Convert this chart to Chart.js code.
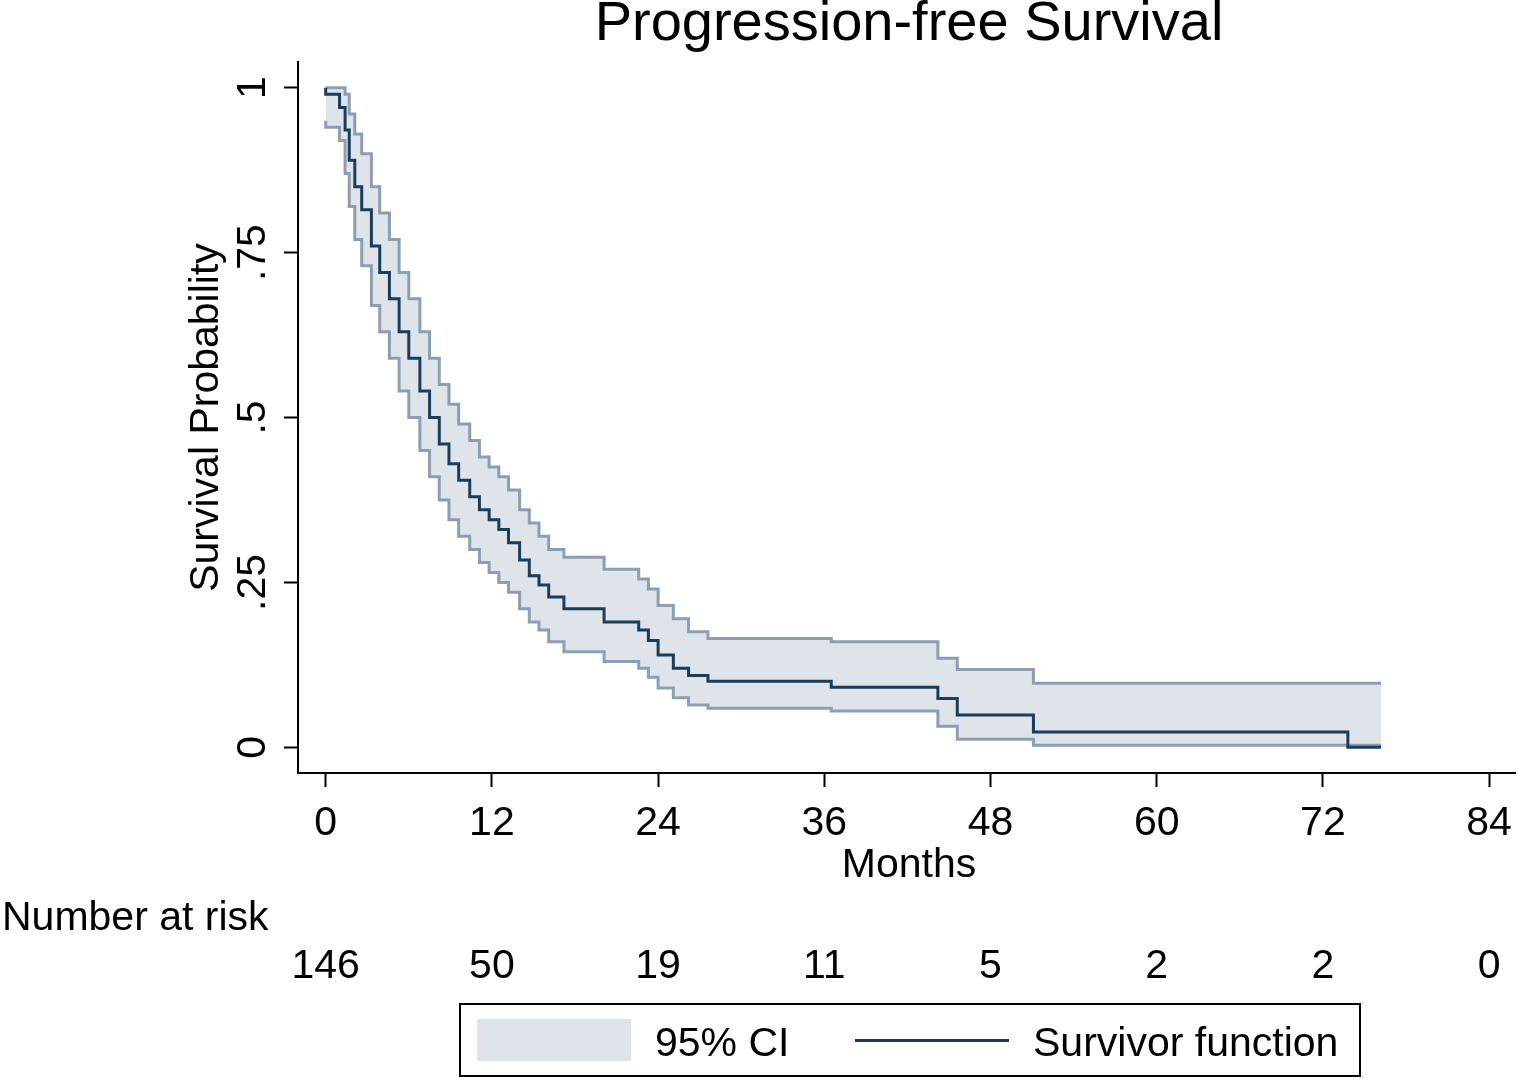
<!DOCTYPE html>
<html><head><meta charset="utf-8">
<script src="https://cdn.jsdelivr.net/npm/chart.js@4"></script>
<style>
body{margin:0;background:#fff;font-family:"Liberation Sans",Arial,sans-serif;}
#wrap{position:relative;width:1524px;height:1081px;}
.t{position:absolute;color:#000;white-space:nowrap;}
</style></head><body>
<div id="wrap">
<canvas id="km" width="1524" height="1081"></canvas>
<div class="t" style="left:0;width:1818px;top:-12px;text-align:center;font-size:56px">Progression-free Survival</div>
<div class="t" style="left:0;width:1818px;top:840px;text-align:center;font-size:41px">Months</div>
<div class="t" style="left:2px;top:893px;font-size:41px">Number at risk</div>
<div id="risk"></div>
<div class="t" style="left:459px;top:1003px;width:898px;height:70px;border:2px solid #000">
  <div style="position:absolute;left:16px;top:14px;width:154px;height:42px;background:#dfe4eb"></div>
  <div class="t" style="left:194px;top:14px;font-size:41px">95% CI</div>
  <div style="position:absolute;left:394px;top:34px;width:154px;height:3px;background:#1a3d5c"></div>
  <div class="t" style="left:572px;top:14px;font-size:41px">Survivor function</div>
</div>
</div>
<script>
const months = [0, 1.0, 1.4, 1.7, 2.1, 2.6, 3.3, 3.9, 4.6, 5.3, 6.0, 6.8, 7.5, 8.2, 8.9, 9.6, 10.4, 11.1, 11.8, 12.5, 13.2, 14.0, 14.7, 15.4, 16.1, 17.2, 20.1, 22.6, 23.3, 24.0, 25.1, 26.2, 27.6, 36.5, 44.2, 45.6, 51.1, 73.8, 76.2];
const survival = [1, 0.99, 0.97, 0.936, 0.89, 0.85, 0.815, 0.76, 0.72, 0.68, 0.63, 0.59, 0.54, 0.50, 0.46, 0.43, 0.405, 0.38, 0.36, 0.345, 0.33, 0.31, 0.284, 0.26, 0.246, 0.228, 0.21, 0.19, 0.178, 0.162, 0.14, 0.12, 0.109, 0.10, 0.091, 0.074, 0.049, 0.023, 0];
const upperCI = [1, 1, 1, 0.99, 0.96, 0.93, 0.90, 0.85, 0.81, 0.77, 0.72, 0.68, 0.63, 0.59, 0.55, 0.52, 0.49, 0.465, 0.44, 0.425, 0.41, 0.39, 0.36, 0.34, 0.32, 0.30, 0.288, 0.27, 0.255, 0.24, 0.215, 0.195, 0.175, 0.165, 0.16, 0.135, 0.118, 0.097, 0.097];
const lowerCI = [0.95, 0.94, 0.92, 0.87, 0.82, 0.77, 0.73, 0.67, 0.63, 0.59, 0.54, 0.50, 0.45, 0.41, 0.375, 0.345, 0.32, 0.30, 0.28, 0.265, 0.25, 0.235, 0.21, 0.19, 0.178, 0.16, 0.145, 0.13, 0.12, 0.106, 0.09, 0.075, 0.064, 0.059, 0.055, 0.032, 0.012, 0.003, 0.003];
const xTicks = [0, 12, 24, 36, 48, 60, 72, 84];
const yTicks = [0, 0.25, 0.5, 0.75, 1];
const yTickLabels = ['0', '.25', '.5', '.75', '1'];
const atRisk = [146, 50, 19, 11, 5, 2, 2, 0];

const pts = arr => months.map((m, i) => ({x: m, y: arr[i]}));
const FONT = '"Liberation Sans", Arial';

const yLabels = {
    id: 'yLabels',
    afterDraw(chart) {
        const c = chart.ctx, ys = chart.scales.y;
        c.save();
        c.fillStyle = '#000';
        c.font = '41px ' + FONT;
        c.textAlign = 'center';
        c.textBaseline = 'middle';
        yTicks.forEach((v, i) => {
            c.save();
            c.translate(254, ys.getPixelForValue(v));
            c.rotate(-Math.PI / 2);
            c.fillText(yTickLabels[i], 0, 0);
            c.restore();
        });
        c.translate(207, ys.getPixelForValue(0.5));
        c.rotate(-Math.PI / 2);
        c.fillText('Survival Probability', 0, 0);
        c.restore();
        // numbers at risk under the month ticks
        const xs = chart.scales.x;
        const risk = document.getElementById('risk');
        risk.innerHTML = '';
        xTicks.forEach((m, i) => {
            const d = document.createElement('div');
            d.className = 't';
            d.style.cssText = 'top:941px;font-size:41px;width:120px;text-align:center;left:' + (xs.getPixelForValue(m) - 60) + 'px';
            d.textContent = atRisk[i];
            risk.appendChild(d);
        });
    }
};

new Chart(document.getElementById('km'), {
    type: 'line',
    data: {
        datasets: [
            {data: pts(upperCI), order: 2, stepped: 'after', borderColor: '#8d9db2', borderWidth: 3, pointRadius: 0, fill: '+1', backgroundColor: '#dfe4eb'},
            {data: pts(lowerCI), order: 1, stepped: 'after', borderColor: '#8d9db2', borderWidth: 3, pointRadius: 0, fill: false},
            {data: pts(survival), order: 0, stepped: 'after', borderColor: '#1a3d5c', borderWidth: 3, pointRadius: 0, fill: false}
        ]
    },
    options: {
        responsive: false,
        animation: false,
        events: [],
        layout: {padding: {top: 62, right: 4, left: 0, bottom: 0}},
        plugins: {legend: {display: false}, tooltip: {enabled: false}},
        scales: {
            x: {
                type: 'linear', min: -2, max: 85.9,
                afterBuildTicks: s => { s.ticks = xTicks.map(v => ({value: v})); },
                afterFit: s => { s.height = 308; },
                grid: {drawOnChartArea: false, drawTicks: true, tickLength: 14, tickColor: '#000', tickWidth: 2},
                border: {color: '#000', width: 2},
                ticks: {color: '#000', font: {size: 41, family: FONT}, maxRotation: 0, padding: 12}
            },
            y: {
                type: 'linear', min: -0.039, max: 1.039,
                afterBuildTicks: s => { s.ticks = yTicks.map(v => ({value: v})); },
                afterFit: s => { s.width = 298; },
                grid: {drawOnChartArea: false, drawTicks: true, tickLength: 14, tickColor: '#000', tickWidth: 2},
                border: {color: '#000', width: 2},
                ticks: {display: false}
            }
        }
    },
    plugins: [yLabels]
});
</script>
</body></html>
